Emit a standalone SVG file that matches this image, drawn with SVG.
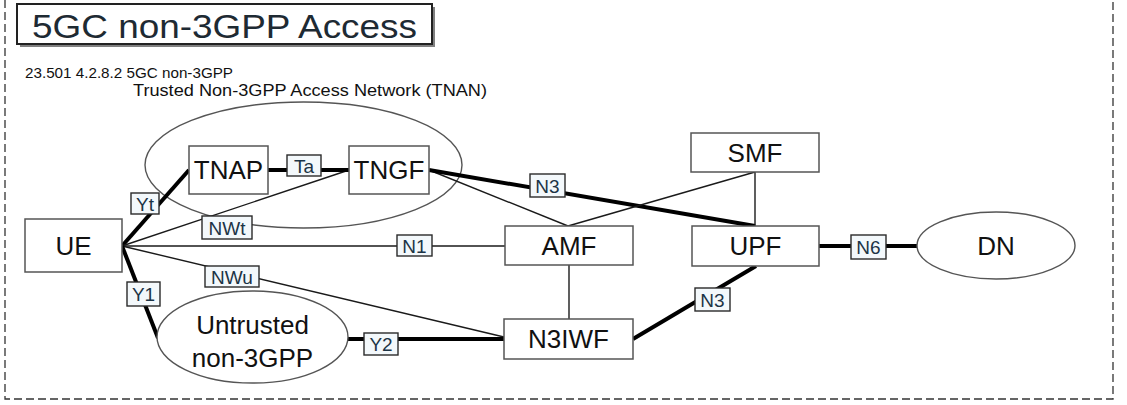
<svg xmlns="http://www.w3.org/2000/svg" width="1127" height="405" viewBox="0 0 1127 405">
  <style>
    .node { fill: #ffffff; stroke: #555555; stroke-width: 1.5; }
    .cloud { fill: #ffffff; stroke: #555555; stroke-width: 1.4; }
    .nlabel { font-family: "Liberation Sans", Arial, sans-serif; font-size: 26px; fill: #111111; text-anchor: middle; }
    .thin { stroke: #1a1a1a; stroke-width: 1.4; fill: none; }
    .thick { stroke: #000000; stroke-width: 4; fill: none; }
    .tag { fill: #f3f8fb; stroke: #2a2a2a; stroke-width: 1.4; }
    .tagtext { font-family: "Liberation Sans", Arial, sans-serif; font-size: 19px; fill: #1c3446; text-anchor: middle; }
    .note { font-family: "Liberation Sans", Arial, sans-serif; fill: #111111; }
  </style>

  <rect x="0" y="0" width="1127" height="405" fill="#ffffff"/>

  <!-- dashed frame -->
  <path d="M5,0 V399 H1113 V0" fill="none" stroke="#333333" stroke-width="1.3" stroke-dasharray="8,4"/>

  <!-- title -->
  <g id="title">
    <rect x="20" y="7" width="415" height="40" fill="#808080"/>
    <rect x="17" y="4" width="415" height="40" fill="#ffffff" stroke="#222222" stroke-width="2"/>
    <text x="32" y="38" font-family="Liberation Sans, Arial, sans-serif" font-size="33" fill="#1e2a33" textLength="385" lengthAdjust="spacingAndGlyphs">5GC non-3GPP Access</text>
  </g>

  <text class="note" x="25" y="78" font-size="15" textLength="208" lengthAdjust="spacingAndGlyphs">23.501 4.2.8.2 5GC non-3GPP</text>
  <text class="note" x="133" y="96" font-size="17" textLength="354" lengthAdjust="spacingAndGlyphs">Trusted Non-3GPP Access Network (TNAN)</text>

  <!-- TNAN area -->
  <g id="tnan">
    <ellipse cx="303.5" cy="165" rx="158.5" ry="63" fill="none" stroke="#555555" stroke-width="1.4"/>
  </g>

  <!-- connectors -->
  <g id="connectors">
    <line class="thick" x1="122" y1="246" x2="189" y2="170"/>
    <line class="thin" x1="122" y1="246" x2="349" y2="170"/>
    <line class="thin" x1="122" y1="246" x2="505" y2="246"/>
    <line class="thin" x1="122" y1="246" x2="504" y2="337"/>
    <line class="thick" x1="122" y1="246" x2="158" y2="338"/>
    <line class="thick" x1="268" y1="170" x2="349" y2="170"/>
    <line class="thin" x1="429" y1="170" x2="568" y2="226"/>
    <line class="thick" x1="429" y1="170" x2="755" y2="226"/>
    <line class="thin" x1="755" y1="172" x2="568" y2="226"/>
    <line class="thin" x1="755" y1="172" x2="755" y2="226"/>
    <line class="thin" x1="569" y1="265" x2="569" y2="319"/>
    <line class="thick" x1="348" y1="339" x2="504" y2="339"/>
    <line class="thick" x1="633" y1="339" x2="756" y2="266"/>
    <line class="thick" x1="819" y1="246" x2="917" y2="246"/>

    <rect class="tag" x="131" y="193" width="28" height="21"/>
    <text class="tagtext" x="145" y="210.5">Yt</text>
    <rect class="tag" x="287" y="155" width="34" height="21"/>
    <text class="tagtext" x="304" y="172.5">Ta</text>
    <rect class="tag" x="202" y="216" width="50" height="23"/>
    <text class="tagtext" x="227" y="234.5">NWt</text>
    <rect class="tag" x="530" y="174" width="35" height="23"/>
    <text class="tagtext" x="547.5" y="192.5">N3</text>
    <rect class="tag" x="397" y="235" width="35" height="21"/>
    <text class="tagtext" x="414.5" y="252.5">N1</text>
    <rect class="tag" x="205" y="266" width="54" height="21"/>
    <text class="tagtext" x="232" y="283.5">NWu</text>
    <rect class="tag" x="127" y="282" width="33" height="24"/>
    <text class="tagtext" x="143.5" y="301">Y1</text>
    <rect class="tag" x="364" y="333" width="34" height="22"/>
    <text class="tagtext" x="381" y="351">Y2</text>
    <rect class="tag" x="695" y="288" width="35" height="23"/>
    <text class="tagtext" x="712.5" y="306.5">N3</text>
    <rect class="tag" x="851" y="235" width="35" height="24"/>
    <text class="tagtext" x="868.5" y="254">N6</text>
  </g>

  <!-- nodes -->
  <g id="ue">
    <rect class="node" x="25" y="219" width="97" height="53"/>
    <text class="nlabel" x="73.5" y="255">UE</text>
  </g>
  <g id="tnap">
    <rect class="node" x="189" y="146" width="79" height="48"/>
    <text class="nlabel" x="228.5" y="179">TNAP</text>
  </g>
  <g id="tngf">
    <rect class="node" x="349" y="146" width="80" height="48"/>
    <text class="nlabel" x="389" y="179">TNGF</text>
  </g>
  <g id="amf">
    <rect class="node" x="505" y="226" width="128" height="39"/>
    <text class="nlabel" x="569" y="255">AMF</text>
  </g>
  <g id="smf">
    <rect class="node" x="691" y="133" width="128" height="39"/>
    <text class="nlabel" x="755" y="162">SMF</text>
  </g>
  <g id="upf">
    <rect class="node" x="692" y="226" width="127" height="40"/>
    <text class="nlabel" x="755.5" y="255">UPF</text>
  </g>
  <g id="n3iwf">
    <rect class="node" x="504" y="319" width="129" height="40"/>
    <text class="nlabel" x="568.5" y="348">N3IWF</text>
  </g>
  <g id="untrusted">
    <ellipse class="cloud" cx="252.5" cy="337" rx="95.5" ry="46"/>
    <text class="nlabel" x="252.5" y="334">Untrusted</text>
    <text class="nlabel" x="252.5" y="367">non-3GPP</text>
  </g>
  <g id="dn">
    <ellipse class="cloud" cx="996" cy="245.5" rx="79" ry="33.5"/>
    <text class="nlabel" x="996" y="255">DN</text>
  </g>
</svg>
